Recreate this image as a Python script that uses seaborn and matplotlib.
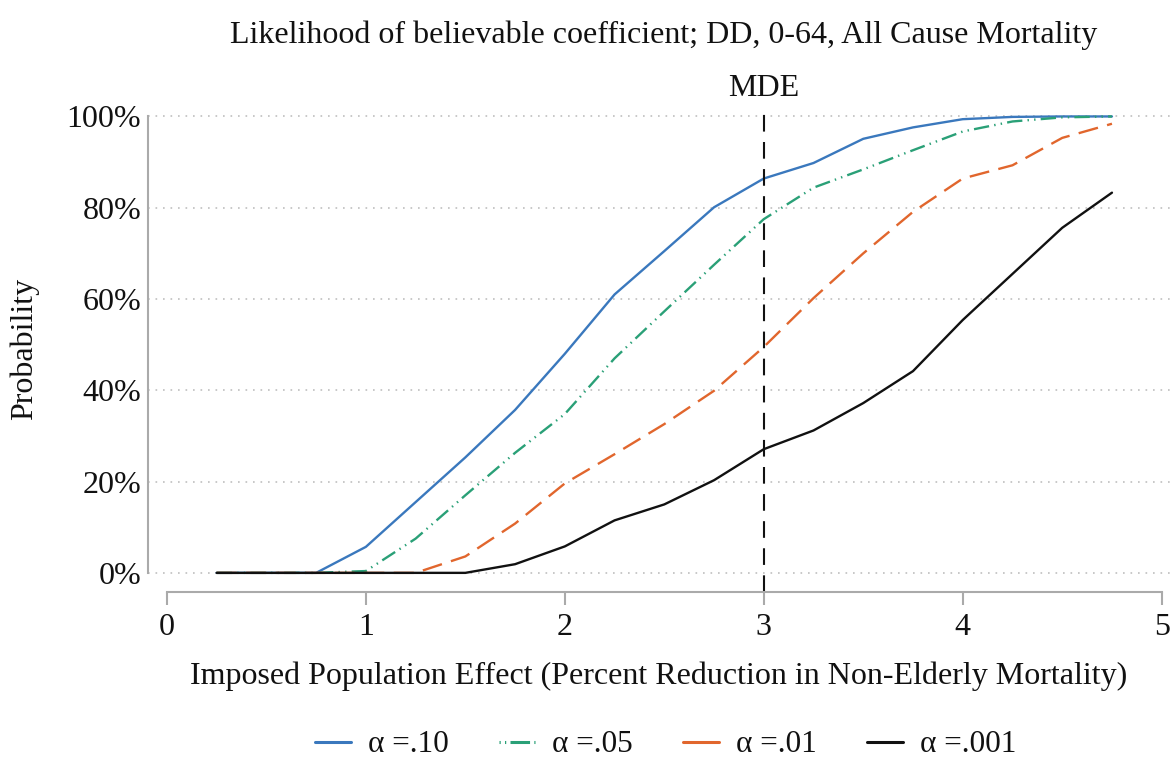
import numpy as np
import pandas as pd
import matplotlib
matplotlib.use("Agg")
import matplotlib.pyplot as plt
from matplotlib.ticker import PercentFormatter
from matplotlib.lines import Line2D
import seaborn as sns

# Imposed effect sizes (percent reduction) and rejection probabilities (%)
effects = [0.25, 0.5, 0.75, 1.0, 1.25, 1.5, 1.75, 2.0, 2.25, 2.5,
           2.75, 3.0, 3.25, 3.5, 3.75, 4.0, 4.25, 4.5, 4.75]
p_alpha_10 = [0, 0, 0, 5.7, 15.5, 25.3, 35.7, 48.0, 61.0, 70.5,
              80.1, 86.4, 89.8, 95.1, 97.6, 99.4, 99.9, 100, 100]
p_alpha_05 = [0, 0, 0, 0.4, 7.5, 17.0, 26.3, 34.8, 47.0, 57.3,
              67.5, 77.5, 84.4, 88.4, 92.6, 96.7, 98.9, 99.8, 100]
p_alpha_01 = [0, 0, 0, 0, 0, 3.6, 10.8, 19.6, 26.0, 32.6,
              39.9, 49.5, 60.2, 70.0, 79.1, 86.4, 89.3, 95.3, 98.4]
p_alpha_001 = [0, 0, 0, 0, 0, 0, 1.9, 5.8, 11.5, 15.0,
               20.3, 27.1, 31.2, 37.2, 44.2, 55.4, 65.5, 75.6, 83.3]

series_labels = ["α =.10", "α =.05", "α =.01", "α =.001"]
mde = 3.0

df = pd.concat([
    pd.DataFrame({"effect": effects, "prob": np.array(v) / 100.0, "series": lab})
    for lab, v in zip(series_labels, [p_alpha_10, p_alpha_05, p_alpha_01, p_alpha_001])
], ignore_index=True)

sns.set_theme(style="white")
plt.rcParams["font.family"] = ["Liberation Serif", "DejaVu Serif"]
plt.rcParams["text.color"] = "#111111"
plt.rcParams["axes.labelcolor"] = "#111111"
plt.rcParams["xtick.labelcolor"] = "#111111"
plt.rcParams["ytick.labelcolor"] = "#111111"

palette = {"α =.10": "#3a78bd", "α =.05": "#2aa077", "α =.01": "#e1662d", "α =.001": "#111111"}
dashes = {"α =.10": "", "α =.05": (6.5, 2.2, 0.6, 2.2, 0.6, 2.2),
          "α =.01": (8.5, 4), "α =.001": ""}

fig = plt.figure(figsize=(11.72, 7.65), dpi=100)
ax = fig.add_axes([0.1263, 0.2261, 0.8717, 0.6366])

sns.lineplot(data=df, x="effect", y="prob", hue="series", style="series",
             palette=palette, dashes=dashes, linewidth=1.7, ax=ax, legend=False)

# MDE reference line and its label
ax.axvline(mde, ymin=0, ymax=1, color="#111111", linewidth=1.5, dashes=(8, 5))
ax.annotate("MDE", xy=(mde, 1 - 89 / 765), xycoords=("data", "figure fraction"),
            ha="center", va="center", fontsize=23)

ax.set_xlim(-0.095, 5.04)
ax.set_ylim(-0.042, 1.025)
ax.set_xticks([0, 1, 2, 3, 4, 5])
ax.set_yticks([0, 0.2, 0.4, 0.6, 0.8, 1.0])
ax.yaxis.set_major_formatter(PercentFormatter(1.0, decimals=0))

for y in [0, 0.2, 0.4, 0.6, 0.8, 1.0]:
    ax.axhline(y, color="#bfbfbf", linewidth=1.2, linestyle=(0, (1, 3.5)), zorder=0)

for side in ["top", "right"]:
    ax.spines[side].set_visible(False)
ax.spines["left"].set_bounds(0, 1)
ax.spines["bottom"].set_bounds(0, 5)
for side in ["left", "bottom"]:
    ax.spines[side].set_color("#aaaaaa")
    ax.spines[side].set_linewidth(1.5)

ax.tick_params(axis="x", direction="out", length=9, width=1.5, color="#aaaaaa",
               labelsize=23, pad=6, bottom=True)
ax.tick_params(axis="y", length=0, labelsize=23, pad=5, left=False)

ax.set_xlabel("Imposed Population Effect (Percent Reduction in Non-Elderly Mortality)",
              fontsize=23, labelpad=14)
ax.set_ylabel("Probability", fontsize=23, labelpad=20)
fig.text(0.5666, 1 - 35 / 765, "Likelihood of believable coefficient; DD, 0-64, All Cause Mortality",
         ha="center", va="center", fontsize=23)

handles = [Line2D([0], [0], color=palette[s], linewidth=2.2) for s in series_labels]
handles[1].set_dashes((0.4, 1.4, 0.4, 1.4, 6, 0))
fig.legend(handles, series_labels, loc="center", bbox_to_anchor=(0.568, 1 - 745 / 765),
           ncol=4, frameon=False, fontsize=22.5, handlelength=1.15, handletextpad=0.55,
           columnspacing=1.6, borderpad=0.2)

fig.savefig("out.png", dpi=100)
